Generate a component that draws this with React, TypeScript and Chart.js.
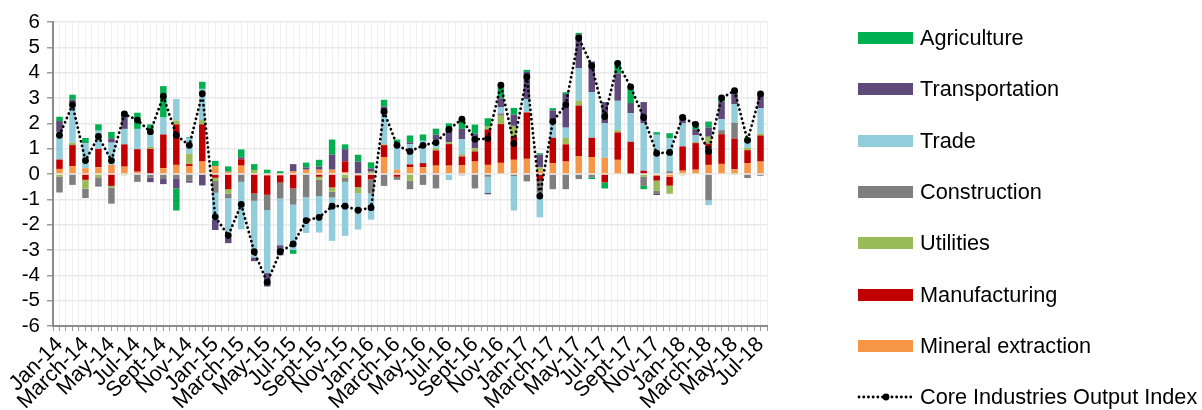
import React, { useEffect, useRef } from "react";
import { Chart, registerables } from "chart.js";

Chart.register(...registerables);

const categories = [
  "Jan-14", "Feb-14", "March-14", "April-14", "May-14", "June-14", "Jul-14", "Aug-14", "Sept-14", "Oct-14", "Nov-14", "Dec-14",
  "Jan-15", "Feb-15", "March-15", "April-15", "May-15", "June-15", "Jul-15", "Aug-15", "Sept-15", "Oct-15", "Nov-15", "Dec-15",
  "Jan-16", "Feb-16", "March-16", "April-16", "May-16", "June-16", "Jul-16", "Aug-16", "Sept-16", "Oct-16", "Nov-16", "Dec-16",
  "Jan-17", "Feb-17", "March-17", "April-17", "May-17", "June-17", "Jul-17", "Aug-17", "Sept-17", "Oct-17", "Nov-17", "Dec-17",
  "Jan-18", "Feb-18", "March-18", "April-18", "May-18", "June-18", "Jul-18",
];

const mineralExtraction = [
  0.2, 0.31, 0.23, 0.27, 0.36, 0.29, 0.09, 0, 0.23, 0.36, 0.31, 0.49,
  0.31, 0.09, 0.33, 0.04, -0.05, -0.05, 0.1, 0.17, 0.17, 0.17, 0.07, -0.05,
  0, 0.67, 0.17, 0.27, 0.27, 0.33, 0.33, 0.34, 0.49, 0.36, 0.44, 0.56,
  0.6, 0.13, 0.43, 0.49, 0.71, 0.67, 0.64, 0.56, 0.02, 0, -0.06, -0.11,
  0.13, 0.17, 0.36, 0.4, 0.19, 0.43, 0.49,
];

const manufacturing = [
  0.37, 0.83, -0.23, 0.72, -0.47, 0.88, 0.89, 0.99, 1.33, 1.6, 0.08, 1.47,
  -0.15, -0.6, 0.25, -0.77, -0.77, -0.29, -0.57, -0.03, -0.11, -0.53, 0.43, -0.47,
  -0.21, 0.47, -0.11, 0.11, 0.16, 0.6, 0.85, 0.35, 0.4, 1.4, 1.53, 0.91,
  1.83, -0.27, 1.0, 0.68, 1.99, 0.76, -0.33, 1.08, 1.25, 0.13, -0.2, -0.35,
  0.96, 1.05, 0.84, 1.17, 1.21, 0.51, 1.03,
];

const utilities = [
  -0.1, 0.1, -0.35, -0.13, -0.07, -0.05, 0, 0.08, 0, 0.15, 0.41, 0.17,
  -0.12, -0.17, 0, 0.12, 0, 0, 0, 0, -0.12, -0.17, -0.16, -0.24,
  0.09, 0.03, 0, -0.27, 0, 0.09, 0.07, 0.09, 0.13, 0.11, 0.33, 0.43,
  0, 0.13, 0, 0.25, 0.2, 0, 0, 0.09, 0, -0.11, -0.4, -0.32,
  -0.05, 0.04, 0.27, 0, -0.04, 0.09, 0.08,
];

const construction = [
  -0.63, -0.43, -0.37, -0.31, -0.63, 0, -0.31, -0.15, -0.2, -0.17, -0.27, 0,
  -0.47, -0.19, -0.31, -0.29, -0.6, -0.63, -0.64, -0.89, -0.64, -0.23, -0.15, 0,
  -0.56, -0.47, -0.12, -0.33, -0.43, -0.57, 0, -0.05, -0.57, -0.11, 0.09, -0.08,
  -0.29, -0.47, -0.6, -0.6, -0.2, -0.13, 0, 0, 0, -0.36, -0.13, 0.11,
  0, 0, -1.04, 0.16, 0.63, -0.16, -0.07,
];

const trade = [
  1.09, 1.56, 0.99, 0.72, 0.88, 0.61, 0.8, 0.69, 0.67, 0.85, 0.63, 1.23,
  -1.07, -1.57, -1.87, -2.23, -2.49, -1.84, -1.79, -1.41, -1.44, -1.71, -2.13, -1.43,
  -1.03, 1.2, 1.0, 0.8, 0.88, 0.33, -0.24, 0.6, 0, -0.64, 0.24, -1.36,
  0.53, -0.97, 0.57, 0.41, 1.28, 1.8, 1.36, 1.16, 1.13, 1.87, 1.55, 1.31,
  0.91, 0.27, -0.19, 0.43, 0.73, 0.24, 1.0,
];

const transportation = [
  0.43, 0.13, 0, -0.05, 0.17, 0.61, 0, -0.17, -0.2, -0.4, -0.07, -0.45,
  -0.4, -0.2, 0.08, -0.15, -0.53, -0.4, 0.29, 0.09, 0.12, 0.6, 0.48, 0.49,
  0.13, 0.29, 0, 0.07, 0, 0.2, 0.55, 0.4, 0.57, -0.05, 0.36, 0.44,
  1.07, 0.51, 0.51, 1.33, 1.32, 1.21, 0.84, 1.08, 0.4, 0.84, -0.04, 0,
  0.33, 0.24, 0.37, 0.69, 0.41, 0.09, 0.6,
];

const agriculture = [
  0.17, 0.2, 0.2, 0.25, 0.25, 0.07, 0.64, 0.2, 1.24, -0.87, 0.03, 0.28,
  0.21, 0.21, 0.31, 0.23, 0.17, 0.11, -0.15, 0.19, 0.27, 0.59, 0.19, 0.27,
  0.24, 0.27, 0.19, 0.27, 0.25, 0.24, 0.2, 0.4, 0.36, 0.33, 0.53, 0.27,
  0.08, 0.05, 0.09, 0.07, 0.07, -0.07, -0.24, 0.47, 0.67, -0.13, 0.1, 0.19,
  0, 0.2, 0.23, 0.11, 0.19, 0.07, 0,
];

const coreIndex = [
  1.53, 2.73, 0.53, 1.48, 0.53, 2.37, 2.13, 1.67, 3.07, 1.53, 1.13, 3.17,
  -1.69, -2.43, -1.2, -3.07, -4.27, -3.07, -2.76, -1.84, -1.71, -1.27, -1.27, -1.43,
  -1.33, 2.47, 1.13, 0.89, 1.13, 1.24, 1.76, 2.17, 1.37, 1.4, 3.51, 1.2,
  3.84, -0.87, 2.07, 2.73, 5.37, 4.27, 2.27, 4.37, 3.44, 2.23, 0.82, 0.85,
  2.23, 1.96, 0.89, 3.0, 3.29, 1.33, 3.16,
];

const seriesNames = [
  "Mineral extraction",
  "Manufacturing",
  "Utilities",
  "Construction",
  "Trade",
  "Transportation",
  "Agriculture",
];
const seriesColors = ["#F79646", "#C00000", "#9BBB59", "#7F7F7F", "#92CDDC", "#604A7B", "#00B050"];
const lineName = "Core Industries Output Index";

const FONT = '"Liberation Sans", Arial, Helvetica, sans-serif';

export default function App() {
  const ref = useRef<HTMLCanvasElement | null>(null);

  useEffect(() => {
    document.body.style.margin = "0";
    const values = [mineralExtraction, manufacturing, utilities, construction, trade, transportation, agriculture];
    const barSets: any[] = values.map((v, i) => ({
      type: "bar",
      label: seriesNames[i],
      data: v,
      backgroundColor: seriesColors[i],
      borderWidth: 0,
      stack: "s",
      order: 1,
      barPercentage: 0.5,
      categoryPercentage: 1,
    }));
    const chart = new Chart(ref.current as HTMLCanvasElement, {
      type: "bar",
      data: {
        labels: categories,
        datasets: [
          ...barSets,
          {
            type: "line",
            label: lineName,
            data: coreIndex,
            stack: "line",
            order: 0,
            borderColor: "#000",
            borderWidth: 2.8,
            borderDash: [0.1, 4.6],
            borderCapStyle: "round",
            pointRadius: 3.4,
            pointBackgroundColor: "#000",
            pointBorderWidth: 0,
            tension: 0,
            fill: false,
          } as any,
        ],
      },
      options: {
        responsive: false,
        animation: false,
        events: [],
        layout: { padding: { left: 0, top: 22, right: 435, bottom: 0 } },
        plugins: { legend: { display: false }, tooltip: { enabled: false } },
        scales: {
          x: {
            type: "category",
            stacked: true,
            offset: true,
            weight: 1,
            grid: {
              offset: true,
              color: "#EFEFEF",
              lineWidth: 1,
              drawTicks: true,
              tickLength: 5,
              tickColor: "#9A9A9A",
            },
            border: { display: true, color: "#8C8C8C", width: 2 },
            ticks: {
              autoSkip: false,
              maxRotation: 45,
              minRotation: 45,
              padding: 1,
              color: "#000",
              font: { family: FONT, size: 21.5 },
              callback: (_v: any, i: number) => (i % 2 === 0 ? categories[i] : ""),
            },
            afterFit: (s: any) => {
              s.height = 84;
            },
          },
          x2: {
            type: "category",
            offset: true,
            position: "bottom",
            weight: 0,
            grid: {
              offset: false,
              color: "#EFEFEF",
              lineWidth: 1,
              drawTicks: true,
              tickLength: 5,
              tickColor: "#9A9A9A",
            },
            border: { display: false },
            ticks: { display: false },
            afterFit: (s: any) => {
              s.height = 0;
            },
          },
          y: {
            stacked: true,
            min: -6,
            max: 6,
            grid: {
              color: "#EAEAEA",
              lineWidth: 1.5,
              tickLength: 6,
              tickColor: "#9A9A9A",
            },
            border: { display: true, color: "#8C8C8C", width: 2 },
            ticks: {
              stepSize: 1,
              autoSkip: false,
              padding: 7,
              color: "#000",
              font: { family: FONT, size: 20.5 },
            },
            afterFit: (s: any) => {
              s.width = 53;
            },
          },
        },
      },
    });
    return () => chart.destroy();
  }, []);

  const legendItems = [...seriesNames].reverse().map((n) => ({ name: n, color: seriesColors[seriesNames.indexOf(n)] }));

  return (
    <div style={{ position: "relative", width: 1202, height: 410, fontFamily: FONT, overflow: "hidden" }}>
      <canvas ref={ref} width={1202} height={410} style={{ position: "absolute", left: 0, top: 0, width: 1202, height: 410 }} />
      {legendItems.map((it, i) => {
        const cy = 38 + i * 51.3;
        return (
          <div key={it.name}>
            <div style={{ position: "absolute", left: 858, top: cy - 6, width: 55, height: 12, background: it.color }} />
            <div style={{ position: "absolute", left: 920, top: cy - 13, height: 26, lineHeight: "26px", fontSize: 21.7, color: "#000", whiteSpace: "nowrap" }}>
              {it.name}
            </div>
          </div>
        );
      })}
      {(() => {
        const cy = 38 + 7 * 51.3;
        return (
          <div>
            <svg style={{ position: "absolute", left: 856, top: cy - 6 }} width={60} height={12}>
              <line x1={3} y1={6} x2={57} y2={6} stroke="#000" strokeWidth={2.8} strokeDasharray="0.1 4.6" strokeLinecap="round" />
              <circle cx={30} cy={6} r={3.4} fill="#000" />
            </svg>
            <div style={{ position: "absolute", left: 920, top: cy - 13, height: 26, lineHeight: "26px", fontSize: 21.7, color: "#000", whiteSpace: "nowrap" }}>
              {lineName}
            </div>
          </div>
        );
      })()}
    </div>
  );
}
